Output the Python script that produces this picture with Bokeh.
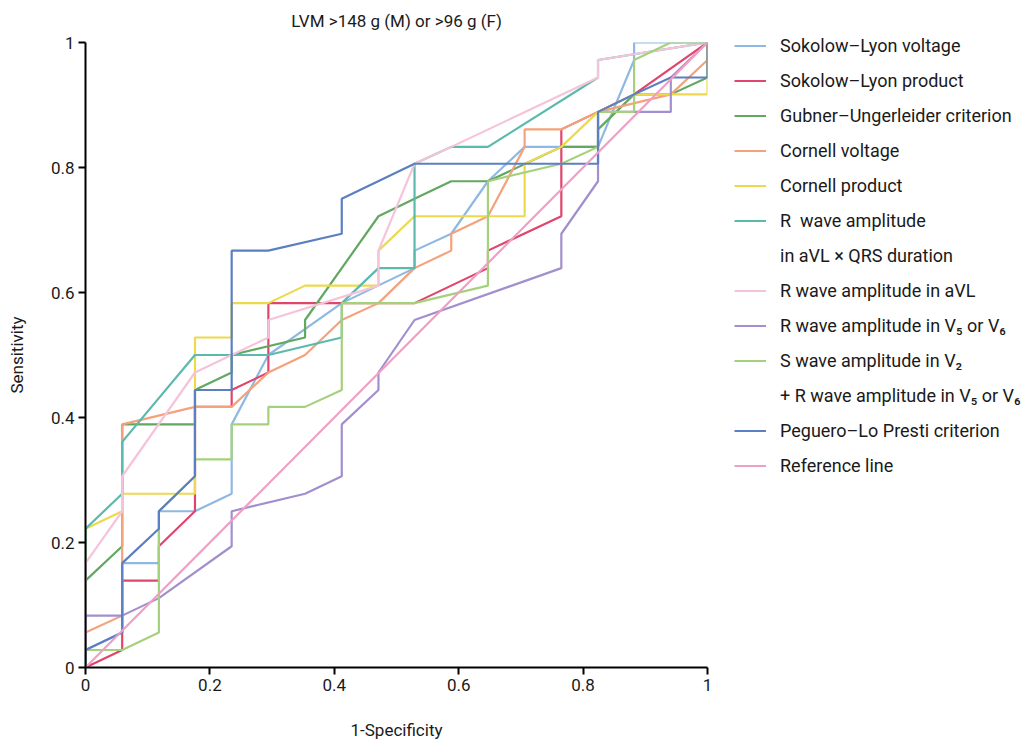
from bokeh.plotting import figure
from bokeh.models import Range1d, FixedTicker, Legend, LegendItem, Title
from bokeh.embed import file_html
from bokeh.resources import INLINE

TITLE = "LVM >148 g (M) or >96 g (F)"
X_LABEL = "1-Specificity"
Y_LABEL = "Sensitivity"
TICKS = [0, 0.2, 0.4, 0.6, 0.8, 1]
TICK_LABELS = ["0", "0.2", "0.4", "0.6", "0.8", "1"]

# ROC curves: false positive rate (1-specificity) and sensitivity
slv_fpr = [0, 0, 0.059, 0.059, 0.118, 0.118, 0.176, 0.235, 0.235, 0.294, 0.412, 0.529, 0.529, 0.588, 0.647, 0.706, 0.824, 0.882, 0.882, 1]
slv_tpr = [0, 0.028, 0.056, 0.167, 0.167, 0.25, 0.25, 0.278, 0.389, 0.5, 0.583, 0.639, 0.667, 0.694, 0.778, 0.833, 0.833, 0.972, 1, 1]

slp_fpr = [0, 0.059, 0.059, 0.118, 0.118, 0.176, 0.176, 0.235, 0.235, 0.294, 0.294, 0.529, 0.647, 0.647, 0.765, 0.765, 0.824, 0.882, 1]
slp_tpr = [0, 0.028, 0.139, 0.139, 0.194, 0.25, 0.417, 0.417, 0.444, 0.472, 0.583, 0.583, 0.639, 0.667, 0.722, 0.861, 0.889, 0.917, 1]

gub_fpr = [0, 0, 0.059, 0.059, 0.176, 0.176, 0.235, 0.235, 0.353, 0.353, 0.471, 0.529, 0.588, 0.647, 0.765, 0.824, 0.824, 0.882, 0.941, 1, 1]
gub_tpr = [0, 0.139, 0.194, 0.389, 0.389, 0.444, 0.472, 0.5, 0.528, 0.556, 0.722, 0.75, 0.778, 0.778, 0.833, 0.833, 0.861, 0.917, 0.917, 0.944, 1]

cv_fpr = [0, 0, 0.059, 0.059, 0.176, 0.235, 0.294, 0.353, 0.412, 0.471, 0.529, 0.588, 0.588, 0.647, 0.706, 0.706, 0.765, 0.824, 0.941, 1, 1]
cv_tpr = [0, 0.056, 0.083, 0.389, 0.417, 0.417, 0.472, 0.5, 0.556, 0.583, 0.639, 0.667, 0.694, 0.722, 0.833, 0.861, 0.861, 0.889, 0.917, 0.972, 1]

cp_fpr = [0, 0, 0.059, 0.059, 0.176, 0.176, 0.235, 0.235, 0.294, 0.353, 0.471, 0.471, 0.529, 0.706, 0.706, 0.765, 0.824, 0.882, 1, 1]
cp_tpr = [0, 0.222, 0.25, 0.278, 0.278, 0.528, 0.528, 0.583, 0.583, 0.611, 0.611, 0.667, 0.722, 0.722, 0.806, 0.833, 0.889, 0.917, 0.917, 1]

rq_fpr = [0, 0, 0.059, 0.059, 0.176, 0.294, 0.412, 0.412, 0.471, 0.529, 0.529, 0.588, 0.647, 0.824, 0.824, 1]
rq_tpr = [0, 0.222, 0.278, 0.361, 0.5, 0.5, 0.528, 0.583, 0.639, 0.639, 0.806, 0.833, 0.833, 0.944, 0.972, 1]

ravl_fpr = [0, 0, 0.059, 0.059, 0.176, 0.235, 0.294, 0.294, 0.471, 0.471, 0.529, 0.588, 0.824, 0.824, 1]
ravl_tpr = [0, 0.167, 0.25, 0.306, 0.472, 0.5, 0.528, 0.556, 0.611, 0.667, 0.806, 0.833, 0.944, 0.972, 1]

rv5_fpr = [0, 0, 0.059, 0.118, 0.235, 0.235, 0.353, 0.412, 0.412, 0.471, 0.471, 0.529, 0.765, 0.765, 0.824, 0.824, 0.941, 0.941, 1]
rv5_tpr = [0, 0.083, 0.083, 0.111, 0.194, 0.25, 0.278, 0.306, 0.389, 0.444, 0.472, 0.556, 0.639, 0.694, 0.778, 0.889, 0.889, 0.944, 1]

sv2_fpr = [0, 0, 0.059, 0.118, 0.118, 0.176, 0.176, 0.235, 0.235, 0.294, 0.294, 0.353, 0.412, 0.412, 0.529, 0.647, 0.647, 0.765, 0.824, 0.824, 0.882, 0.882, 0.941, 1]
sv2_tpr = [0, 0.028, 0.028, 0.056, 0.25, 0.306, 0.333, 0.333, 0.389, 0.389, 0.417, 0.417, 0.444, 0.583, 0.583, 0.611, 0.778, 0.806, 0.833, 0.889, 0.889, 0.972, 1, 1]

plp_fpr = [0, 0, 0.059, 0.059, 0.118, 0.118, 0.176, 0.176, 0.235, 0.235, 0.294, 0.412, 0.412, 0.529, 0.824, 0.824, 0.882, 0.941, 1, 1]
plp_tpr = [0, 0.028, 0.056, 0.167, 0.222, 0.25, 0.306, 0.444, 0.444, 0.667, 0.667, 0.694, 0.75, 0.806, 0.806, 0.889, 0.917, 0.944, 0.944, 1]

ref_fpr = [0, 1]
ref_tpr = [0, 1]

FONT = "Roboto"
TXT = "#1a1a1a"

p = figure(frame_width=622, frame_height=625,
           x_range=Range1d(0, 1), y_range=Range1d(0, 1),
           output_backend="svg", toolbar_location=None,
           min_border_left=85, min_border_right=307,
           min_border_top=42, min_border_bottom=70)
p.outline_line_color = None
p.grid.visible = False
p.background_fill_color = "white"
p.border_fill_color = "white"

spacer = Title(text=" ", text_font=FONT, text_font_size="9px", standoff=0)
p.add_layout(spacer, "above")
title = Title(text=TITLE, align="center", text_font=FONT, text_font_size="17px",
              text_font_style="normal", text_color=TXT, standoff=0)
p.add_layout(title, "above")

for ax in (p.xaxis[0], p.yaxis[0]):
    ax.ticker = FixedTicker(ticks=TICKS)
    ax.major_label_overrides = {t: l for t, l in zip(TICKS, TICK_LABELS)}
    ax.minor_tick_line_color = None
    ax.axis_line_width = 2
    ax.axis_line_color = "black"
    ax.major_tick_line_width = 2
    ax.major_tick_line_color = "black"
    ax.major_tick_in = 0
    ax.major_tick_out = 7
    ax.major_label_standoff = 4
    ax.major_label_text_font = FONT
    ax.major_label_text_font_size = "17px"
    ax.major_label_text_color = TXT
    ax.axis_label_text_font = FONT
    ax.axis_label_text_font_size = "17px"
    ax.axis_label_text_font_style = "normal"
    ax.axis_label_text_color = TXT

p.xaxis.axis_label = X_LABEL
p.yaxis.axis_label = Y_LABEL
p.xaxis.axis_label_standoff = 26
p.yaxis.axis_label_standoff = 21

series = [
    ("Sokolow\u2013Lyon voltage", slv_fpr, slv_tpr, "#8fb9e3"),
    ("Sokolow\u2013Lyon product", slp_fpr, slp_tpr, "#e0456c"),
    ("Gubner\u2013Ungerleider criterion", gub_fpr, gub_tpr, "#62a862"),
    ("Cornell voltage", cv_fpr, cv_tpr, "#f4a27c"),
    ("Cornell product", cp_fpr, cp_tpr, "#ecd94c"),
    ("R  wave amplitude", rq_fpr, rq_tpr, "#5cb9ae"),
    ("in aVL \u00d7 QRS duration", [], [], "#f3f6ee"),
    ("R wave amplitude in aVL", ravl_fpr, ravl_tpr, "#f5c4da"),
    ("R wave amplitude in V\u2085 or V\u2086", rv5_fpr, rv5_tpr, "#a28fcd"),
    ("S wave amplitude in V\u2082", sv2_fpr, sv2_tpr, "#a6d17c"),
    ("+ R wave amplitude in V\u2085 or V\u2086", [], [], None),
    ("Peguero\u2013Lo Presti criterion", plp_fpr, plp_tpr, "#5b7fc1"),
    ("Reference line", ref_fpr, ref_tpr, "#ef9fc4"),
]

items = []
for label, xs, ys, color in series:
    if color is None:
        r = p.line(xs, ys, line_color="white", line_alpha=0, line_width=2)
    else:
        r = p.line(xs, ys, line_color=color, line_width=2.2)
    items.append(LegendItem(label=label, renderers=[r]))

legend = Legend(items=items, location=(27, 191))
legend.border_line_color = None
legend.background_fill_alpha = 0
legend.padding = 0
legend.margin = 0
legend.glyph_width = 32
legend.glyph_height = 21
legend.label_height = 21
legend.spacing = 14
legend.label_standoff = 14
legend.label_text_font = FONT
legend.label_text_font_size = "18px"
legend.label_text_color = TXT
legend.label_text_baseline = "middle"
p.add_layout(legend, "right")

open("out.html", "w").write(file_html(p, INLINE))
